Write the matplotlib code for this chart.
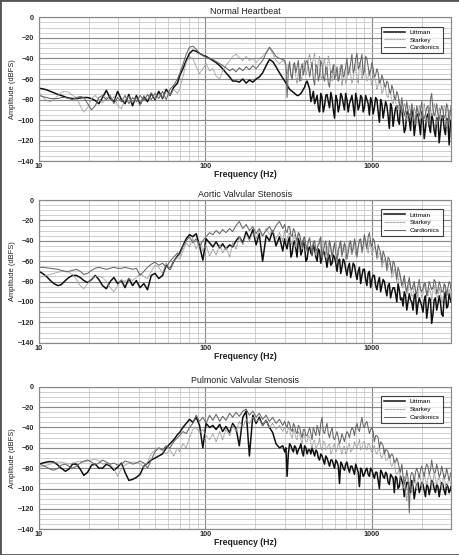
import matplotlib
matplotlib.use("Agg")
import matplotlib.pyplot as plt
from matplotlib.ticker import MultipleLocator, LogLocator, NullFormatter, FixedLocator
from matplotlib.patches import Rectangle

plt.rcParams['font.family'] = ['Liberation Sans', 'DejaVu Sans']

# ---------------- data ----------------
FREQ_LOW = [10, 10.5, 11.1, 11.7, 12.3, 13.0, 13.6, 14.4, 15.1, 15.9,
            16.8, 17.7, 18.6, 19.6, 20.7, 21.8, 22.9, 24.1, 25.4, 26.8,
            28.2, 29.7, 31.3, 32.9, 34.7, 36.5, 38.5, 40.5, 42.7, 44.9,
            47.3, 49.8, 52.5, 55.3, 58.2, 61.3, 64.6, 68.0]
FREQ_MID = [70, 73.3, 76.7, 80.4, 84.1, 88.1, 92.3, 96.6, 101, 106,
            111, 116, 122, 127, 133, 140, 146, 153, 160, 168,
            176, 184, 193, 202, 211, 221, 232, 243, 254, 266,
            279, 292]
FREQ_HIGH = [300, 310, 321, 333, 344, 356, 369, 382, 395, 409,
             424, 438, 454, 470, 486, 503, 521, 539, 558, 578,
             598, 619, 641, 663, 686, 710, 735, 761, 788, 816,
             844, 874, 904, 936, 969, 1003, 1038, 1075, 1113, 1152,
             1192, 1234, 1277, 1322, 1368, 1416, 1466, 1518, 1571, 1626,
             1683, 1742, 1803, 1866, 1932, 2000, 2070, 2142, 2218, 2295,
             2376, 2459, 2546, 2635, 2727, 2823, 2922, 3000]
FREQ = FREQ_LOW + FREQ_MID + FREQ_HIGH
# extra readings between the high-frequency points (dense noisy part)
FREQ_EXTRA = [305, 315.5, 327, 338.5, 350, 362.5, 375.5, 388.5, 402, 416.5,
              431, 446, 462, 478, 494.5, 512, 530, 548.5, 568, 588,
              608.5, 630, 652, 674.5, 698, 722.5, 748, 774.5, 802, 830,
              859, 889, 920, 952.5, 986, 1020.5, 1056.5, 1094, 1132.5, 1172,
              1213, 1255.5, 1299.5, 1345, 1392, 1441, 1492, 1544.5, 1598.5, 1654.5,
              1712.5, 1772.5, 1834.5, 1899, 1966, 2035, 2106, 2180, 2256.5, 2335.5,
              2417.5, 2502.5, 2590.5, 2681, 2775, 2872.5, 2961]

SERIES = ["Littman", "Starkey", "Cardionics"]
TITLES = ["Normal Heartbeat", "Aortic Valvular Stenosis", "Pulmonic Valvular Stenosis"]
YTICKS = [0, -20, -40, -60, -80, -100, -120, -140]
XTICKS = [10, 100, 1000]
XTICKLABELS = ["10", "100", "1000"]

# ---- Normal Heartbeat ----
NH_LITTMAN = [
    -69, -69.5, -70.5, -72, -73.5, -75, -76, -77.5, -78.5, -79,
    -79, -78.5, -78, -78, -79, -81, -84, -78, -71, -79,
    -82, -72, -80, -84, -75, -86, -76, -85, -77, -82,
    -74, -80, -72, -79, -70, -76, -68, -64,
    -57, -50, -42, -35, -32, -33, -35, -37, -38, -40,
    -42, -44, -47, -50, -54, -58, -62, -62, -63, -60,
    -64, -61, -63, -60, -58, -54, -47, -41, -43, -48,
    -54, -59,
    -62, -66, -70, -72, -74, -76, -75, -72, -68, -62,
    -70, -78, -84, -76, -92, -78, -86, -75, -88, -79,
    -98, -80, -86, -77, -90, -80, -84, -76, -96, -80,
    -86, -78, -88, -80, -95, -82, -88, -80, -102, -84,
    -90, -86, -108, -88, -96, -86, -104, -90, -112, -92,
    -100, -90, -115, -95, -104, -92, -118, -96, -106, -94,
    -110, -98, -122, -96, -108, -98, -124, -100]
NH_LITTMAN_EXTRA = [
    -64, -68, -71, -73, -75, -76, -74, -70, -64, -66,
    -82, -72, -80, -88, -74, -92, -76, -82, -73, -90,
    -76, -92, -74, -84, -74, -92, -80, -86, -74, -90,
    -76, -92, -76, -84, -78, -94, -78, -92, -80, -98,
    -82, -96, -84, -106, -88, -100, -86, -100, -108, -92,
    -110, -96, -104, -94, -114, -98, -108, -94, -112, -100,
    -116, -98, -110, -96, -114, -100, -108]
NH_STARKEY = [
    -73, -77, -81, -82, -80, -76, -73, -72, -73, -76,
    -78, -86, -92, -88, -79, -76, -80, -83, -78, -81,
    -77, -86, -89, -80, -77, -83, -78, -86, -76, -80,
    -73, -79, -75, -78, -72, -76, -70, -74,
    -70, -58, -44, -38, -40, -48, -55, -50, -45, -52,
    -50, -57, -60, -52, -47, -42, -38, -36, -39, -42,
    -38, -42, -40, -44, -40, -38, -34, -30, -35, -42,
    -45, -42,
    -44, -55, -48, -60, -46, -64, -50, -58, -42, -52,
    -36, -48, -35, -55, -38, -60, -40, -56, -44, -62,
    -46, -58, -50, -66, -52, -60, -48, -64, -46, -58,
    -44, -60, -46, -62, -52, -66, -56, -70, -60, -74,
    -64, -76, -70, -82, -76, -88, -80, -92, -84, -100,
    -86, -96, -88, -104, -86, -98, -84, -102, -88, -96,
    -84, -104, -88, -98, -86, -106, -90, -96]
NH_STARKEY_EXTRA = [
    -50, -46, -56, -50, -58, -54, -62, -48, -56, -40,
    -44, -40, -50, -42, -58, -46, -52, -38, -54, -48,
    -54, -62, -46, -58, -64, -50, -56, -60, -52, -64,
    -48, -56, -54, -58, -60, -60, -62, -66, -64, -72,
    -70, -78, -74, -84, -82, -90, -86, -92, -88, -96,
    -90, -100, -92, -98, -90, -96, -92, -102, -88, -94,
    -90, -100, -92, -98, -88, -100, -94]
NH_CARDIONICS = [
    -76, -77, -78, -79, -79, -79, -78, -78, -79, -80,
    -78, -77, -78, -84, -90, -86, -78, -76, -80, -76,
    -84, -78, -82, -76, -84, -78, -82, -76, -81, -75,
    -80, -74, -79, -72, -80, -70, -66, -60,
    -55, -46, -36, -29, -28, -31, -35, -37, -39, -40,
    -41, -43, -45, -47, -49, -52, -50, -53, -49, -52,
    -48, -51, -47, -50, -46, -42, -35, -29, -33, -38,
    -40, -41,
    -42, -78, -43, -60, -44, -48, -62, -45, -50, -42,
    -58, -44, -66, -48, -56, -46, -62, -50, -68, -54,
    -60, -48, -58, -46, -56, -40, -52, -36, -50, -35,
    -48, -36, -52, -40, -56, -44, -58, -50, -64, -56,
    -66, -62, -72, -66, -78, -72, -84, -78, -96, -82,
    -94, -84, -100, -86, -96, -82, -98, -88, -104, -74,
    -96, -84, -100, -86, -98, -84, -104, -86]
NH_CARDIONICS_EXTRA = [
    -46, -52, -56, -46, -54, -42, -50, -56, -44, -48,
    -50, -60, -46, -62, -42, -58, -48, -64, -52, -46,
    -56, -62, -50, -58, -48, -56, -44, -54, -40, -50,
    -42, -56, -38, -48, -52, -50, -56, -54, -62, -60,
    -68, -64, -74, -70, -80, -76, -90, -88, -90, -92,
    -96, -90, -104, -92, -90, -100, -94, -86, -80, -90,
    -92, -94, -92, -90, -96, -88, -94]

# ---- Aortic Valvular Stenosis ----
AS_LITTMAN = [
    -70, -72, -75, -79, -82, -84, -83, -79, -76, -74,
    -74, -76, -79, -81, -78, -74, -78, -84, -87, -80,
    -76, -82, -79, -86, -77, -84, -79, -86, -82, -88,
    -74, -72, -77, -74, -64, -68, -60, -55,
    -52, -45, -38, -34, -36, -33, -45, -59, -38, -42,
    -46, -41, -47, -43, -48, -44, -46, -40, -36, -42,
    -31, -38, -29, -44, -33, -60, -35, -40, -30, -45,
    -36, -50,
    -38, -48, -36, -52, -40, -56, -42, -50, -44, -58,
    -46, -54, -48, -60, -50, -56, -52, -66, -54, -62,
    -56, -70, -58, -66, -60, -74, -62, -70, -64, -78,
    -66, -74, -68, -84, -70, -78, -74, -88, -76, -84,
    -80, -94, -82, -90, -86, -100, -88, -96, -90, -108,
    -92, -100, -94, -112, -96, -104, -98, -116, -96, -121,
    -98, -108, -94, -112, -96, -106, -92, -100]
AS_LITTMAN_EXTRA = [
    -44, -40, -56, -42, -48, -38, -54, -40, -60, -48,
    -52, -44, -56, -48, -62, -50, -58, -56, -64, -54,
    -62, -60, -72, -58, -68, -66, -76, -62, -72, -70,
    -82, -68, -78, -72, -86, -74, -84, -80, -90, -78,
    -88, -84, -96, -86, -92, -82, -98, -104, -94, -100,
    -98, -108, -92, -102, -100, -110, -94, -106, -98, -112,
    -96, -102, -100, -114, -90, -104, -96]
AS_STARKEY = [
    -76, -75, -74, -73, -72, -71, -70, -70, -71, -73,
    -78, -84, -87, -82, -77, -75, -75, -76, -80, -86,
    -90, -84, -78, -80, -77, -79, -76, -72, -75, -77,
    -70, -64, -66, -72, -62, -68, -60, -56,
    -58, -50, -42, -46, -38, -48, -40, -50, -44, -55,
    -48, -54, -44, -52, -46, -56, -42, -48, -36, -44,
    -34, -40, -32, -38, -30, -36, -28, -34, -30, -38,
    -32, -40,
    -30, -38, -32, -44, -34, -40, -36, -48, -38, -44,
    -36, -50, -40, -46, -38, -52, -42, -48, -40, -54,
    -44, -50, -42, -56, -44, -52, -40, -54, -42, -50,
    -38, -52, -36, -48, -40, -54, -46, -58, -52, -66,
    -58, -70, -62, -76, -68, -80, -72, -86, -78, -92,
    -80, -94, -82, -90, -84, -96, -82, -92, -86, -98,
    -84, -94, -86, -100, -84, -94, -88, -96]
AS_STARKEY_EXTRA = [
    -40, -34, -42, -36, -46, -32, -42, -38, -50, -40,
    -46, -40, -54, -42, -48, -40, -56, -44, -50, -46,
    -40, -54, -48, -44, -58, -46, -48, -44, -54, -46,
    -42, -48, -44, -52, -46, -50, -48, -56, -54, -62,
    -60, -66, -64, -74, -72, -82, -76, -86, -88, -90,
    -86, -94, -88, -96, -86, -92, -88, -94, -90, -88,
    -92, -96, -90, -98, -86, -92, -90]
AS_CARDIONICS = [
    -66, -66, -66.5, -67, -67.5, -68, -69, -70, -70, -69,
    -68, -70, -73, -72, -69, -67, -66, -67, -68, -67,
    -66, -67, -67, -66, -67, -68, -67, -74, -70, -66,
    -63, -61, -64, -62, -66, -60, -56, -52,
    -54, -46, -40, -36, -42, -38, -46, -40, -36, -32,
    -34, -30, -33, -29, -32, -28, -31, -25, -21, -28,
    -24, -30, -26, -33, -28, -35, -30, -26, -32, -25,
    -21, -28,
    -24, -32, -26, -36, -30, -40, -34, -46, -36, -50,
    -38, -54, -40, -48, -42, -58, -44, -52, -40, -56,
    -42, -60, -46, -54, -42, -58, -44, -52, -38, -56,
    -40, -50, -34, -48, -32, -46, -40, -56, -48, -62,
    -54, -68, -58, -72, -62, -78, -70, -84, -74, -90,
    -76, -88, -80, -92, -78, -90, -82, -94, -80, -88,
    -78, -92, -80, -90, -82, -94, -80, -88]
AS_CARDIONICS_EXTRA = [
    -30, -26, -34, -28, -36, -32, -40, -38, -44, -40,
    -46, -42, -50, -44, -36, -50, -40, -56, -46, -50,
    -52, -48, -40, -50, -46, -52, -40, -48, -44, -46,
    -38, -44, -40, -36, -42, -38, -48, -44, -52, -50,
    -58, -56, -64, -60, -68, -66, -76, -80, -84, -82,
    -86, -84, -90, -84, -88, -86, -82, -88, -84, -86,
    -80, -88, -84, -90, -84, -86, -82]

# ---- Pulmonic Valvular Stenosis ----
PS_LITTMAN = [
    -76, -75, -74, -73.5, -74, -77, -80, -83, -81, -76,
    -76, -81, -87, -84, -77, -76, -80, -80, -76, -78,
    -82, -79, -75, -84, -92, -91, -89, -86, -78, -75,
    -72, -70, -68, -66, -60, -56, -52, -47,
    -45, -40, -36, -32, -35, -30, -38, -60, -36, -40,
    -38, -42, -37, -44, -39, -45, -36, -41, -58, -30,
    -24, -68, -28, -36, -30, -38, -33, -40, -45, -56,
    -60, -58,
    -64, -88, -56, -62, -58, -66, -60, -64, -58, -66,
    -62, -60, -68, -64, -72, -68, -76, -70, -78, -72,
    -80, -74, -95, -76, -82, -74, -84, -78, -86, -80,
    -98, -82, -86, -80, -88, -82, -90, -84, -100, -84,
    -90, -86, -96, -88, -104, -90, -98, -92, -108, -94,
    -100, -92, -110, -96, -104, -94, -102, -96, -106, -92,
    -100, -96, -108, -94, -102, -96, -104, -98]
PS_LITTMAN_EXTRA = [
    -60, -66, -58, -64, -60, -62, -56, -68, -60, -62,
    -66, -64, -62, -70, -66, -72, -68, -74, -72, -76,
    -72, -78, -74, -80, -76, -80, -78, -82, -76, -84,
    -80, -88, -82, -86, -80, -86, -84, -92, -82, -88,
    -84, -94, -86, -90, -88, -100, -88, -96, -100, -94,
    -104, -98, -102, -94, -100, -96, -108, -98, -100, -94,
    -104, -98, -100, -96, -106, -98, -102]
PS_STARKEY = [
    -78, -78, -77, -76, -75, -74, -74, -75, -76, -75,
    -74, -73, -74, -73, -72, -71, -73, -76, -75, -77,
    -80, -88, -80, -77, -75, -74, -74, -76, -79, -74,
    -66, -62, -60, -63, -66, -62, -68, -60,
    -64, -56, -60, -50, -42, -40, -45, -42, -48, -52,
    -46, -54, -44, -52, -42, -48, -38, -44, -34, -40,
    -32, -36, -30, -34, -32, -38, -33, -40, -36, -42,
    -38, -44,
    -40, -46, -42, -50, -44, -52, -46, -56, -48, -54,
    -50, -60, -52, -58, -50, -62, -54, -60, -56, -64,
    -56, -62, -58, -66, -58, -64, -56, -62, -54, -60,
    -52, -60, -54, -62, -56, -64, -58, -66, -60, -70,
    -62, -72, -66, -78, -72, -86, -80, -96, -88, -112,
    -94, -104, -90, -100, -86, -98, -84, -96, -86, -100,
    -84, -96, -88, -100, -86, -98, -90, -96]
PS_STARKEY_EXTRA = [
    -44, -40, -48, -42, -50, -44, -52, -46, -54, -48,
    -56, -54, -62, -56, -60, -54, -62, -58, -66, -58,
    -64, -56, -62, -60, -66, -58, -64, -60, -58, -56,
    -62, -54, -60, -56, -62, -60, -64, -62, -68, -66,
    -72, -70, -76, -76, -84, -84, -94, -100, -104, -98,
    -96, -94, -92, -92, -90, -94, -92, -90, -88, -94,
    -90, -92, -94, -92, -96, -94, -92]
PS_CARDIONICS = [
    -76, -77, -79, -81, -82, -80, -77, -76, -78, -80,
    -78, -75, -73, -72, -74, -77, -75, -72, -74, -76,
    -75, -77, -76, -73, -74, -76, -75, -73, -75, -80,
    -72, -64, -60, -62, -58, -60, -54, -50,
    -48, -44, -46, -40, -36, -28, -34, -30, -36, -28,
    -33, -27, -34, -29, -33, -26, -30, -25, -29, -24,
    -22, -28, -24, -30, -26, -32, -28, -34, -30, -36,
    -32, -38,
    -34, -40, -36, -44, -38, -46, -40, -50, -42, -48,
    -40, -52, -44, -38, -48, -30, -46, -36, -50, -40,
    -52, -44, -56, -46, -54, -44, -50, -40, -48, -36,
    -44, -30, -40, -34, -46, -40, -54, -48, -60, -56,
    -66, -62, -70, -66, -74, -70, -80, -76, -96, -82,
    -124, -84, -94, -80, -90, -78, -88, -76, -86, -72,
    -84, -76, -88, -78, -90, -80, -92, -84]
PS_CARDIONICS_EXTRA = [
    -38, -34, -42, -36, -44, -38, -46, -42, -48, -44,
    -46, -40, -48, -42, -36, -44, -40, -46, -44, -50,
    -48, -50, -52, -50, -48, -46, -44, -42, -40, -42,
    -36, -38, -36, -40, -42, -44, -48, -50, -54, -58,
    -62, -64, -68, -68, -74, -74, -84, -88, -92, -90,
    -88, -86, -84, -84, -82, -84, -80, -78, -82, -80,
    -84, -82, -86, -84, -88, -86, -88]

PANELS = [
    (TITLES[0], [(NH_LITTMAN, NH_LITTMAN_EXTRA), (NH_STARKEY, NH_STARKEY_EXTRA),
                 (NH_CARDIONICS, NH_CARDIONICS_EXTRA)]),
    (TITLES[1], [(AS_LITTMAN, AS_LITTMAN_EXTRA), (AS_STARKEY, AS_STARKEY_EXTRA),
                 (AS_CARDIONICS, AS_CARDIONICS_EXTRA)]),
    (TITLES[2], [(PS_LITTMAN, PS_LITTMAN_EXTRA), (PS_STARKEY, PS_STARKEY_EXTRA),
                 (PS_CARDIONICS, PS_CARDIONICS_EXTRA)]),
]

STYLES = [
    dict(color="#101010", lw=1.1, ls="-"),
    dict(color="#9c9c9c", lw=0.8, ls=(0, (1.0, 0.4))),
    dict(color="#666666", lw=0.75, ls="-"),
]

# ---------------- figure ----------------
fig = plt.figure(figsize=(4.6, 5.55), dpi=100)
fig.patch.set_facecolor("white")
POSITIONS = [
    (0.0848, 0.7094, 0.8957, 0.2594),
    (0.0848, 0.3825, 0.8957, 0.2571),
    (0.0848, 0.0463, 0.8957, 0.2569),
]

for pos, (title, vals) in zip(POSITIONS, PANELS):
    ax = fig.add_axes(pos)
    for name, (v, vx), st in zip(SERIES, vals, STYLES):
        if len(v) != len(FREQ) or len(vx) != len(FREQ_EXTRA):
            raise ValueError(f"{title} {name}: {len(v)}/{len(FREQ)} {len(vx)}/{len(FREQ_EXTRA)}")
        pts = sorted(zip(FREQ + FREQ_EXTRA, v + vx))
        ax.plot([p[0] for p in pts], [p[1] for p in pts], label=name, **st)
    ax.set_xscale("log")
    ax.set_xlim(10, 3000)
    ax.set_ylim(-140, 0)
    ax.set_yticks(YTICKS)
    ax.yaxis.set_minor_locator(MultipleLocator(5))
    ax.xaxis.set_major_locator(FixedLocator(XTICKS))
    ax.set_xticklabels(XTICKLABELS)
    ax.xaxis.set_minor_locator(LogLocator(base=10, subs=[2, 3, 4, 5, 6, 7, 8, 9]))
    ax.xaxis.set_minor_formatter(NullFormatter())
    ax.set_axisbelow(True)
    ax.grid(which="major", color="#8a8a8a", lw=0.85)
    ax.grid(which="minor", color="#c4c4c4", lw=0.55)
    ax.tick_params(which="both", length=0)
    ax.tick_params(axis="y", pad=3.5, labelsize=5.2, labelcolor="#2a2a2a")
    ax.tick_params(axis="x", pad=1.5, labelsize=5.2, labelcolor="#2a2a2a")
    for lab in ax.get_xticklabels() + ax.get_yticklabels():
        lab.set_fontweight("bold")
    for sp in ax.spines.values():
        sp.set_color("#8a8a8a")
        sp.set_linewidth(0.85)
    ax.set_title(title, fontsize=6.4, pad=2.5, color="#1e1e1e")
    ax.set_xlabel("Frequency (Hz)", fontsize=6.2, fontweight="bold", color="#1e1e1e")
    ax.xaxis.set_label_coords(0.5, -0.063)
    ax.set_ylabel("Amplitude (dBFS)", fontsize=5.4, color="#1e1e1e")
    ax.yaxis.set_label_coords(-0.056, 0.5)
    leg = ax.legend(loc="upper right", bbox_to_anchor=(0.98, 0.935), fontsize=4.6,
                    frameon=True, fancybox=False, edgecolor="#111111",
                    handlelength=3.2, handletextpad=0.8, borderpad=0.45,
                    labelspacing=0.35, borderaxespad=0)
    leg.get_frame().set_linewidth(0.8)
    leg.set_zorder(10)

fig.patches.append(Rectangle((0, 0), 1, 1, transform=fig.transFigure, fill=False,
                             edgecolor="#555555", lw=2))

fig.savefig("out.png", dpi=100, facecolor="white")
